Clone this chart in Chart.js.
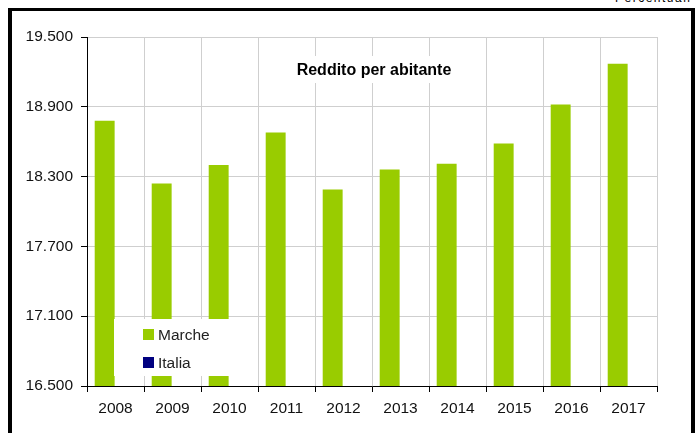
<!DOCTYPE html>
<html>
<head>
<meta charset="utf-8">
<script src="https://cdn.jsdelivr.net/npm/chart.js@4/dist/chart.umd.min.js"></script>
<style>
	html, body { margin: 0; padding: 0; background: #fff; overflow: hidden; }
	.frame {
		position: absolute;
		left: 8px;
		top: 8px;
		width: 679px;
		height: 440px;
		border: 4px solid #000;
		border-top-width: 3px;
		box-sizing: content-box;
	}
	.note {
		position: absolute;
		top: -9px;
		left: 615px;
		font: 12px 'Liberation Sans', Arial, sans-serif;
		letter-spacing: 1.5px;
		color: #000;
	}
	.chart-box {
		position: absolute;
		left: 0;
		top: 0;
		width: 700px;
		height: 433px;
	}
</style>
</head>
<body>
<div class="note">Percentuali</div>
<div class="frame"></div>
<div class="chart-box">
	<canvas id="reddito-chart"></canvas>
</div>
<script>
const years = ['2008', '2009', '2010', '2011', '2012', '2013', '2014', '2015', '2016', '2017'];
const marche = [18780, 18240, 18400, 18680, 18190, 18360, 18410, 18585, 18920, 19270];
const italia = [null, null, null, null, null, null, null, null, null, null];
const seriesNames = ['Marche', 'Italia'];
const seriesColors = ['#99cc00', '#000080'];
const yMin = 16500;
const yMax = 19500;
const yStep = 600;
const chartTitle = 'Reddito per abitante';

const fontFamily = "'Liberation Sans', Arial, sans-serif";

const formatThousands = (v) => String(v).replace(/\B(?=(\d{3})+(?!\d))/g, '.');

// titolo e legenda disegnati dentro l'area del grafico, con sfondo bianco
const overlayPlugin = {
	id: 'overlay',
	afterDraw(chart) {
		const ctx = chart.ctx;
		ctx.save();

		ctx.fillStyle = '#fff';
		ctx.fillRect(290, 56, 170, 27);
		ctx.fillStyle = '#000';
		ctx.font = 'bold 16px ' + fontFamily;
		ctx.textAlign = 'center';
		ctx.textBaseline = 'middle';
		ctx.fillText(chartTitle, 374, 71);

		ctx.fillStyle = '#fff';
		ctx.fillRect(114, 319, 124, 57);
		ctx.font = '15.5px ' + fontFamily;
		ctx.textAlign = 'left';
		ctx.textBaseline = 'alphabetic';
		chart.data.datasets.forEach((ds, i) => {
			const y = 329 + i * 28;
			ctx.fillStyle = ds.backgroundColor;
			ctx.fillRect(143, y, 11, 11);
			ctx.fillStyle = '#222';
			ctx.fillText(ds.label, 158, y + 11);
		});

		ctx.restore();
	},
};

const ctx = document.getElementById('reddito-chart');

new Chart(ctx, {
	type: 'bar',
	data: {
		labels: years,
		datasets: [
			{
				label: seriesNames[0],
				data: marche,
				backgroundColor: seriesColors[0],
				borderWidth: 0,
				categoryPercentage: 0.76,
				barPercentage: 0.92,
			},
			{
				label: seriesNames[1],
				data: italia,
				backgroundColor: seriesColors[1],
				borderWidth: 0,
				categoryPercentage: 0.76,
				barPercentage: 0.92,
			},
		],
	},
	options: {
		responsive: true,
		maintainAspectRatio: false,
		animation: false,
		layout: {
			padding: { top: 37, right: 43, left: 0, bottom: 0 },
		},
		plugins: {
			legend: { display: false },
			tooltip: { enabled: false },
		},
		scales: {
			x: {
				afterFit(scale) {
					scale.height = 47;
				},
				grid: {
					color: '#cfcfcf',
					tickColor: '#000',
					tickLength: 6,
					offset: true,
				},
				border: { color: '#000', width: 1 },
				ticks: {
					color: '#111',
					padding: 7,
					font: { family: fontFamily, size: 15.5 },
				},
			},
			y: {
				min: yMin,
				max: yMax,
				afterFit(scale) {
					scale.width = 87;
				},
				grid: {
					color: '#cfcfcf',
					tickColor: '#000',
					tickLength: 6,
				},
				border: { color: '#000', width: 1 },
				ticks: {
					stepSize: yStep,
					color: '#111',
					padding: 8,
					font: { family: fontFamily, size: 15.5 },
					callback: (value) => formatThousands(value),
				},
			},
		},
	},
	plugins: [overlayPlugin],
});
</script>
</body>
</html>
